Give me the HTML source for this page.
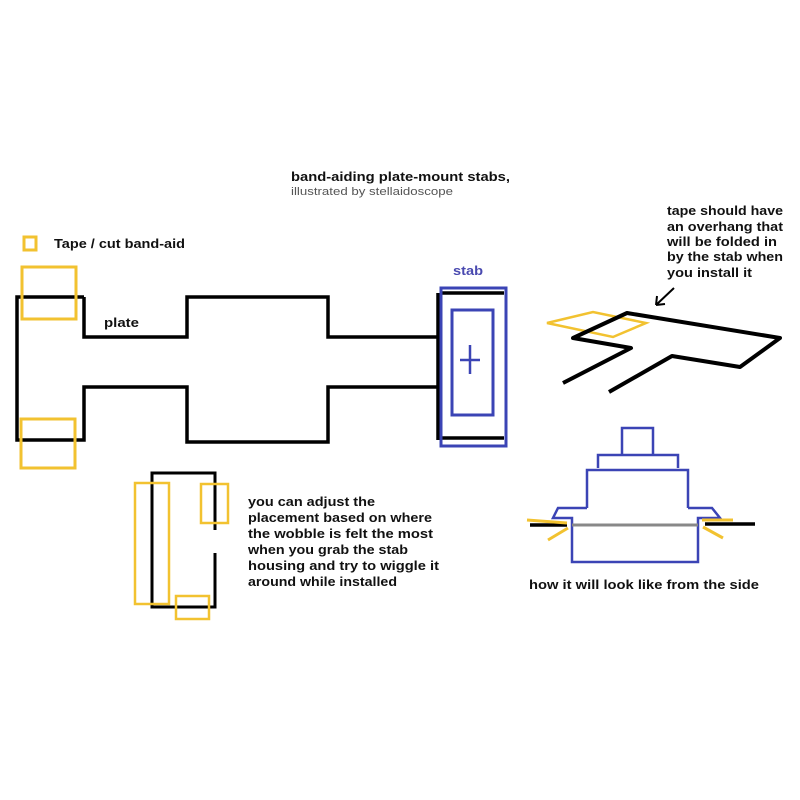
<!DOCTYPE html>
<html><head><meta charset="utf-8"><style>
html,body{margin:0;padding:0;background:#fff;width:800px;height:800px;overflow:hidden}
svg{display:block}
text{font-family:"Liberation Sans",sans-serif;font-weight:bold;fill:#111}
</style></head><body>
<svg width="800" height="800" viewBox="0 0 800 800" xmlns="http://www.w3.org/2000/svg">
<!-- title -->
<text x="291" y="181" font-size="13" textLength="219" lengthAdjust="spacingAndGlyphs">band-aiding plate-mount stabs,</text>
<text x="291" y="195" font-size="11" textLength="162" lengthAdjust="spacingAndGlyphs" style="font-weight:normal;fill:#555">illustrated by stellaidoscope</text>
<!-- legend -->
<rect x="24" y="237" width="12" height="13" fill="none" stroke="#f2c230" stroke-width="3"/>
<text x="54" y="248" font-size="12.5" textLength="131" lengthAdjust="spacingAndGlyphs">Tape / cut band-aid</text>
<!-- plate -->
<path d="M84,297 H17 V440 H84 V387 H187 V442 H328 V387 H438 M438,337 H328 V297 H187 V337 H84 V297" fill="none" stroke="#000" stroke-width="3.5"/>
<line x1="438" y1="293" x2="438" y2="440" stroke="#000" stroke-width="3.5"/>
<line x1="441" y1="293" x2="504" y2="293" stroke="#000" stroke-width="3.5"/>
<line x1="441" y1="438" x2="504" y2="438" stroke="#000" stroke-width="3.5"/>
<text x="104" y="327" font-size="12.5" textLength="35" lengthAdjust="spacingAndGlyphs">plate</text>
<!-- tape on plate -->
<rect x="22" y="267" width="54" height="52" fill="none" stroke="#f2c230" stroke-width="3"/>
<rect x="21" y="419" width="54" height="49" fill="none" stroke="#f2c230" stroke-width="3"/>
<!-- stab -->
<text x="453" y="275" font-size="12.5" textLength="30" lengthAdjust="spacingAndGlyphs" style="fill:#4a4ab0">stab</text>
<rect x="441" y="288" width="65" height="158" fill="none" stroke="#3b44b5" stroke-width="3"/>
<rect x="452" y="310" width="41" height="105" fill="none" stroke="#3b44b5" stroke-width="3"/>
<path d="M470,345 V374 M460,360 H480" stroke="#3b44b5" stroke-width="2.5"/>
<!-- tape note -->
<text x="667" y="215" font-size="12.5" textLength="116" lengthAdjust="spacingAndGlyphs">tape should have</text>
<text x="667" y="231" font-size="12.5" textLength="116" lengthAdjust="spacingAndGlyphs">an overhang that</text>
<text x="667" y="246" font-size="12.5" textLength="110" lengthAdjust="spacingAndGlyphs">will be folded in</text>
<text x="667" y="261" font-size="12.5" textLength="116" lengthAdjust="spacingAndGlyphs">by the stab when</text>
<text x="667" y="277" font-size="12.5" textLength="85" lengthAdjust="spacingAndGlyphs">you install it</text>
<path d="M674,288 L656,305 M656,305 L657,296 M656,305 L665,304" fill="none" stroke="#000" stroke-width="2"/>
<!-- perspective plate -->
<polygon points="547,323 593,312 646,323 613,337" fill="none" stroke="#f2c230" stroke-width="2.5"/>
<polyline points="563,383 631,348 573,338 627,313 780,338 740,367 672,356 609,392" fill="none" stroke="#000" stroke-width="4" stroke-linejoin="round"/>
<!-- side view -->
<path d="M622,455 V428 H653 V455 M598,468 V455 H678 V468 M587,508 V470 H688 V508" fill="none" stroke="#3b44b5" stroke-width="2.5"/>
<path d="M587,508 H558 L553,518 H572 V562 H698 V518 H720 L712,508 H688" fill="none" stroke="#3b44b5" stroke-width="2.5"/>
<line x1="572" y1="525" x2="698" y2="525" stroke="#888" stroke-width="3"/>
<line x1="530" y1="525" x2="567" y2="525" stroke="#000" stroke-width="3.5"/>
<line x1="705" y1="524" x2="755" y2="524" stroke="#000" stroke-width="3.5"/>
<path d="M527,520 L567,523 M548,540 L568,528 M702,520 L733,520 M703,527 L723,538" stroke="#f2c230" stroke-width="3"/>
<text x="529" y="589" font-size="12.5" textLength="230" lengthAdjust="spacingAndGlyphs">how it will look like from the side</text>
<!-- lower-left -->
<path d="M215,530 V473 H152 V607 H215 V553" fill="none" stroke="#000" stroke-width="3"/>
<rect x="135" y="483" width="34" height="121" fill="none" stroke="#f2c230" stroke-width="2.5"/>
<rect x="201" y="484" width="27" height="39" fill="none" stroke="#f2c230" stroke-width="2.5"/>
<rect x="176" y="596" width="33" height="23" fill="none" stroke="#f2c230" stroke-width="2.5"/>
<text x="248" y="506" font-size="12.5" textLength="127" lengthAdjust="spacingAndGlyphs">you can adjust the</text>
<text x="248" y="522" font-size="12.5" textLength="184" lengthAdjust="spacingAndGlyphs">placement based on where</text>
<text x="248" y="538" font-size="12.5" textLength="185" lengthAdjust="spacingAndGlyphs">the wobble is felt the most</text>
<text x="248" y="554" font-size="12.5" textLength="160" lengthAdjust="spacingAndGlyphs">when you grab the stab</text>
<text x="248" y="570" font-size="12.5" textLength="191" lengthAdjust="spacingAndGlyphs">housing and try to wiggle it</text>
<text x="248" y="586" font-size="12.5" textLength="149" lengthAdjust="spacingAndGlyphs">around while installed</text>
</svg>
</body></html>
